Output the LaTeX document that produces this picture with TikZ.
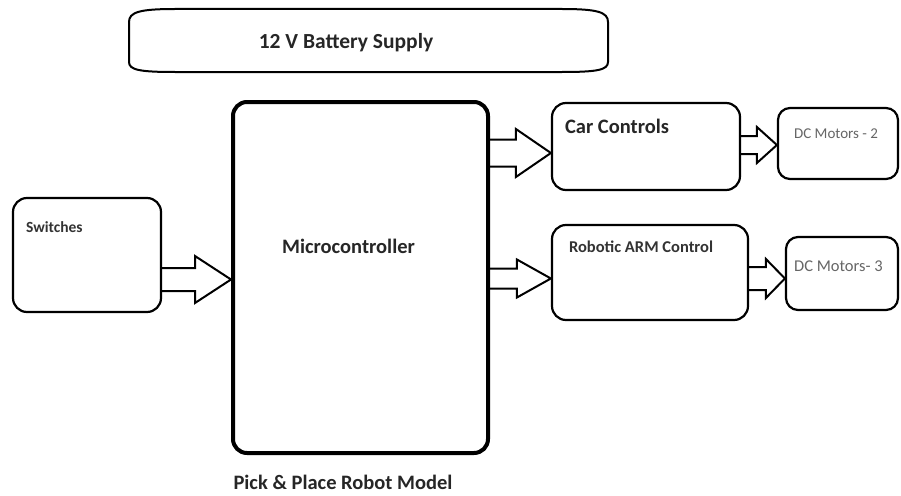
\documentclass[tikz,border=0pt]{standalone}
\usepackage{fontspec}
\setmainfont{Carlito}
\usetikzlibrary{calc}

\newcommand{\fatarrow}[6]{%
  \draw[fatarr] let \p1=(#1.east), \p2=($(#2.west)+(0,#3)$) in
    (\x1,\y2+#4pt) -- (\x2-#6pt,\y2+#4pt) -- (\x2-#6pt,\y2+#5pt) -- (\x2,\y2)
    -- (\x2-#6pt,\y2-#5pt) -- (\x2-#6pt,\y2-#4pt) -- (\x1,\y2-#4pt);
}

\begin{document}
\begin{tikzpicture}[
    x=1pt, y=-1pt,
    block/.style={draw=black, line width=2.2pt, rounded corners=14pt,
        fill=white, inner sep=0pt},
    bigtxt/.style={inner sep=0pt, font=\fontsize{20.5}{22}\selectfont\bfseries,
        text=black!85},
    smalltxt/.style={inner sep=0pt, font=\fontsize{15.5}{17}\selectfont\bfseries,
        text=black!80, anchor=west},
    motortxt/.style={inner sep=0pt, font=\fontsize{15.5}{17}\selectfont,
        text=black!60, anchor=west},
    fatarr/.style={draw=black, line width=2pt, line join=miter}
]
    \useasboundingbox (0,0) rectangle (901,495);

    % battery supply
    \draw[line width=2pt] (129,22) .. controls (129,12) and (140,9) .. (175,9)
        -- (562,9) .. controls (597,9) and (608,12) .. (608,22)
        -- (608,62) .. controls (608,70) and (597,72) .. (562,72)
        -- (175,72) .. controls (140,72) and (129,70) .. (129,62) -- cycle;
    \node[bigtxt, font=\fontsize{21.5}{23}\selectfont\bfseries] (bat) at (346,43) {12 V Battery Supply};

    % blocks
    \node[block, line width=4pt, minimum width=255pt, minimum height=351pt] (mc) at (360.5,277.5) {};
    \node[block, minimum width=148pt, minimum height=114pt] (sw) at (87,255) {};
    \node[block, minimum width=188pt, minimum height=87pt] (cc) at (646,146.5) {};
    \node[block, minimum width=196pt, minimum height=95pt] (ra) at (650,272.5) {};
    \node[block, rounded corners=12pt, minimum width=120pt, minimum height=71pt] (m2) at (838,143.5) {};
    \node[block, rounded corners=12pt, minimum width=112pt, minimum height=73pt] (m3) at (842,273.5) {};

    % labels
    \node[bigtxt] (mctxt) at ($(mc.north)+(-12,146)$) {Microcontroller};
    \node[smalltxt] (swtxt) at ($(sw.north west)+(14,30)$) {Switches};
    \node[bigtxt, anchor=west] (cctxt) at ($(cc.north west)+(14,24)$) {Car Controls};
    \node[smalltxt, font=\fontsize{16.5}{18}\selectfont\bfseries] (ratxt) at ($(ra.north west)+(18,23)$) {Robotic ARM Control};
    \node[motortxt, font=\fontsize{15}{17}\selectfont] (m2txt) at ($(m2.north west)+(17,27)$) {DC Motors - 2};
    \node[motortxt, font=\fontsize{16.5}{18}\selectfont] (m3txt) at ($(m3.north west)+(9,30)$) {DC Motors- 3};
    \node[bigtxt, font=\fontsize{20.5}{22}\selectfont\bfseries] (caption) at ($(mc.south)+(-17.5,27)$) {Pick \& Place Robot Model};

    % arrows
    \fatarrow{sw}{mc}{2}{11.5}{23.5}{36}
    \fatarrow{mc}{cc}{6.5}{13.5}{24}{35}
    \fatarrow{mc}{ra}{6}{10}{19}{34}
    \fatarrow{cc}{m2}{1.5}{9}{18}{20}
    \fatarrow{ra}{m3}{5}{11.5}{19.5}{19}
\end{tikzpicture}
\end{document}
